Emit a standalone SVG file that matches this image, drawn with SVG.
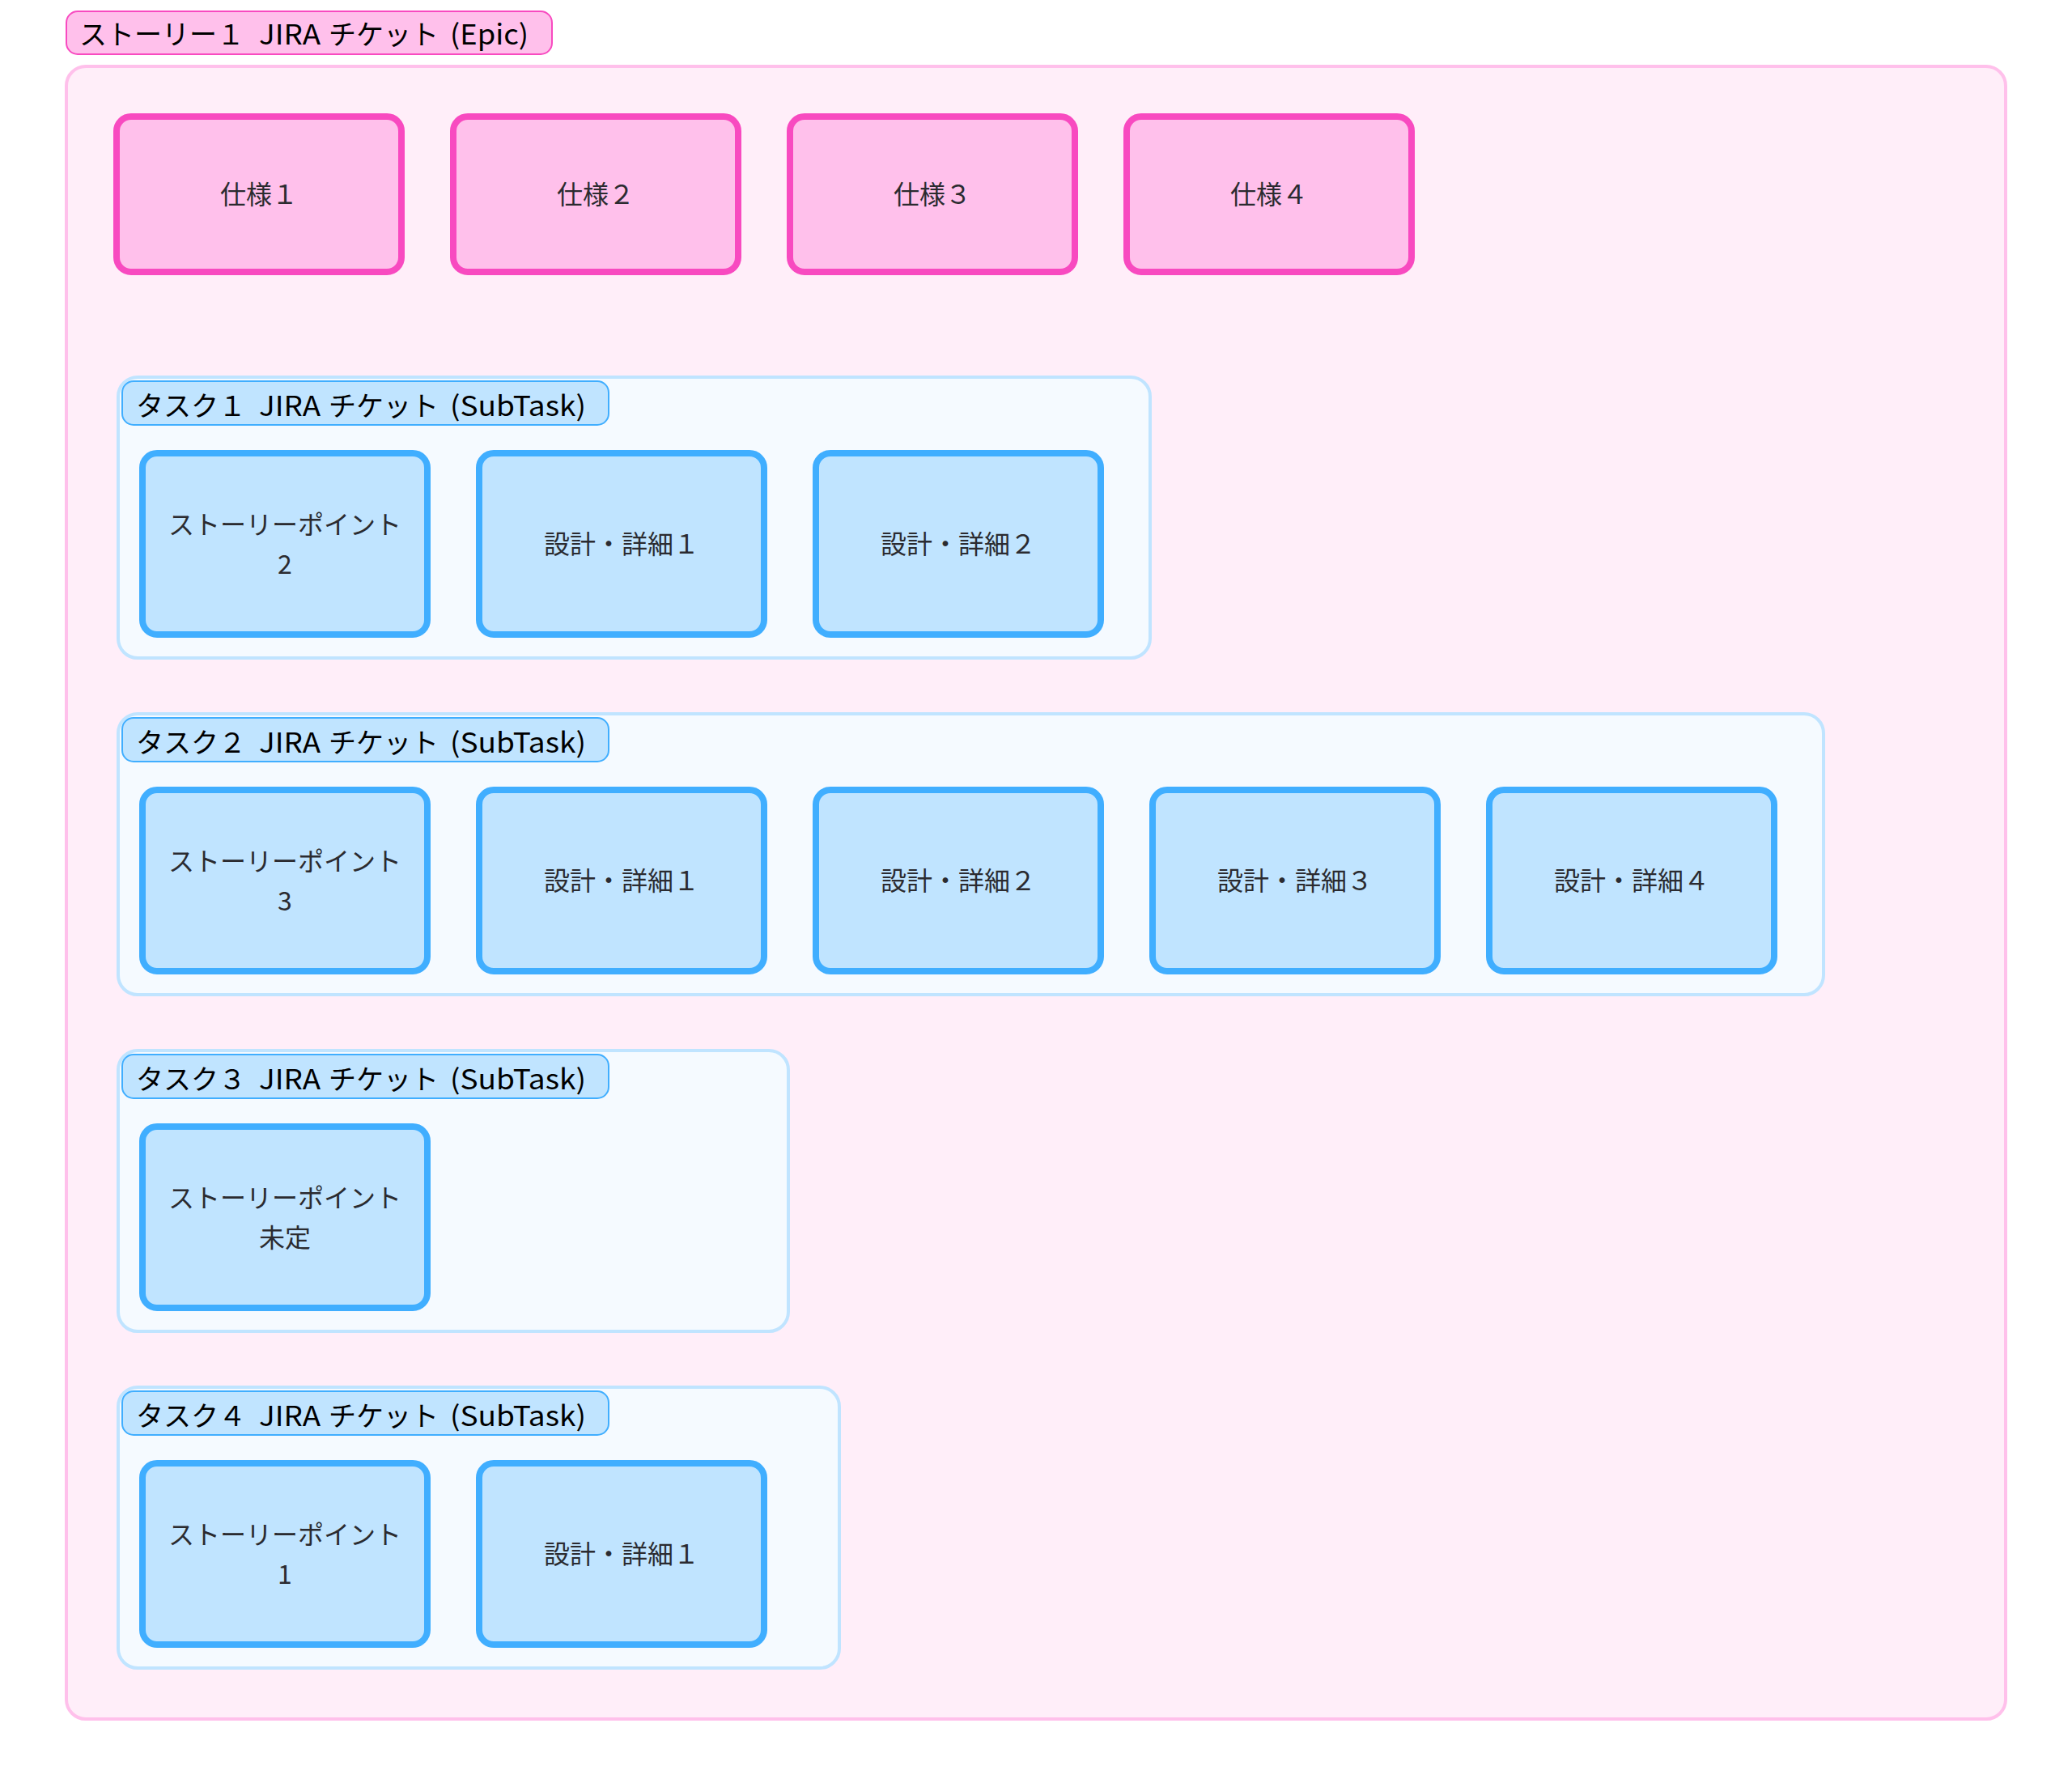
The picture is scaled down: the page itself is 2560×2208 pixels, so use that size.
<svg xmlns="http://www.w3.org/2000/svg" width="2560" height="2208" viewBox="0 0 2560 2208">
<style>
  .epic-box { fill: #ffeef9; stroke: #ffc0eb; stroke-width: 4; }
  .epic-label { fill: #ffc0eb; stroke: #f84ac0; stroke-width: 2; }
  .spec { fill: #ffc0eb; stroke: #f84ac0; stroke-width: 8; }
  .task-box { fill: #f5faff; stroke: #c0e4ff; stroke-width: 4; }
  .task-label { fill: #c0e4ff; stroke: #40aeff; stroke-width: 2; }
  .item { fill: #c0e4ff; stroke: #40aeff; stroke-width: 8; }
  .lbl { font-family: "Noto Sans CJK JP", "Noto Sans", sans-serif; font-size: 34px; fill: #000000; }
  .txt { font-family: "Noto Sans CJK JP", "Noto Sans", sans-serif; font-size: 32px; fill: #2b2b30; text-anchor: middle; }
</style>
<rect width="2560" height="2208" fill="#ffffff"/>

<g id="story1">
  <rect class="epic-box" x="82" y="82" width="2396" height="2042" rx="24"/>
  <rect class="epic-label" x="82" y="14" width="600" height="53" rx="14"/>
  <text class="lbl" y="55"><tspan x="98">ストーリー１</tspan><tspan x="320" textLength="76" lengthAdjust="spacingAndGlyphs">JIRA</tspan><tspan x="406">チケット</tspan><tspan x="556" textLength="97" lengthAdjust="spacingAndGlyphs">(Epic)</tspan></text>
</g>

<g id="spec1"><rect class="spec" x="144" y="144" width="352" height="192" rx="18"/><text class="txt" x="320" y="252">仕様１</text></g>
<g id="spec2"><rect class="spec" x="560" y="144" width="352" height="192" rx="18"/><text class="txt" x="736" y="252">仕様２</text></g>
<g id="spec3"><rect class="spec" x="976" y="144" width="352" height="192" rx="18"/><text class="txt" x="1152" y="252">仕様３</text></g>
<g id="spec4"><rect class="spec" x="1392" y="144" width="352" height="192" rx="18"/><text class="txt" x="1568" y="252">仕様４</text></g>

<g id="task1">
  <rect class="task-box" x="146" y="466" width="1275" height="347" rx="24"/>
  <rect class="task-label" x="151" y="471" width="601" height="54" rx="14"/>
  <text class="lbl" y="514"><tspan x="168">タスク１</tspan><tspan x="320" textLength="76" lengthAdjust="spacingAndGlyphs">JIRA</tspan><tspan x="406">チケット</tspan><tspan x="556" textLength="168" lengthAdjust="spacingAndGlyphs">(SubTask)</tspan></text>
</g>
<g id="t1-sp"><rect class="item" x="176" y="560" width="352" height="224" rx="18"/><text class="txt" x="352" y="660">ストーリーポイント</text><text class="txt" x="352" y="709">2</text></g>
<g id="t1-d1"><rect class="item" x="592" y="560" width="352" height="224" rx="18"/><text class="txt" x="768" y="684">設計・詳細１</text></g>
<g id="t1-d2"><rect class="item" x="1008" y="560" width="352" height="224" rx="18"/><text class="txt" x="1184" y="684">設計・詳細２</text></g>

<g id="task2">
  <rect class="task-box" x="146" y="882" width="2107" height="347" rx="24"/>
  <rect class="task-label" x="151" y="887" width="601" height="54" rx="14"/>
  <text class="lbl" y="930"><tspan x="168">タスク２</tspan><tspan x="320" textLength="76" lengthAdjust="spacingAndGlyphs">JIRA</tspan><tspan x="406">チケット</tspan><tspan x="556" textLength="168" lengthAdjust="spacingAndGlyphs">(SubTask)</tspan></text>
</g>
<g id="t2-sp"><rect class="item" x="176" y="976" width="352" height="224" rx="18"/><text class="txt" x="352" y="1076">ストーリーポイント</text><text class="txt" x="352" y="1125">3</text></g>
<g id="t2-d1"><rect class="item" x="592" y="976" width="352" height="224" rx="18"/><text class="txt" x="768" y="1100">設計・詳細１</text></g>
<g id="t2-d2"><rect class="item" x="1008" y="976" width="352" height="224" rx="18"/><text class="txt" x="1184" y="1100">設計・詳細２</text></g>
<g id="t2-d3"><rect class="item" x="1424" y="976" width="352" height="224" rx="18"/><text class="txt" x="1600" y="1100">設計・詳細３</text></g>
<g id="t2-d4"><rect class="item" x="1840" y="976" width="352" height="224" rx="18"/><text class="txt" x="2016" y="1100">設計・詳細４</text></g>

<g id="task3">
  <rect class="task-box" x="146" y="1298" width="828" height="347" rx="24"/>
  <rect class="task-label" x="151" y="1303" width="601" height="54" rx="14"/>
  <text class="lbl" y="1346"><tspan x="168">タスク３</tspan><tspan x="320" textLength="76" lengthAdjust="spacingAndGlyphs">JIRA</tspan><tspan x="406">チケット</tspan><tspan x="556" textLength="168" lengthAdjust="spacingAndGlyphs">(SubTask)</tspan></text>
</g>
<g id="t3-sp"><rect class="item" x="176" y="1392" width="352" height="224" rx="18"/><text class="txt" x="352" y="1492">ストーリーポイント</text><text class="txt" x="352" y="1541">未定</text></g>

<g id="task4">
  <rect class="task-box" x="146" y="1714" width="891" height="347" rx="24"/>
  <rect class="task-label" x="151" y="1719" width="601" height="54" rx="14"/>
  <text class="lbl" y="1762"><tspan x="168">タスク４</tspan><tspan x="320" textLength="76" lengthAdjust="spacingAndGlyphs">JIRA</tspan><tspan x="406">チケット</tspan><tspan x="556" textLength="168" lengthAdjust="spacingAndGlyphs">(SubTask)</tspan></text>
</g>
<g id="t4-sp"><rect class="item" x="176" y="1808" width="352" height="224" rx="18"/><text class="txt" x="352" y="1908">ストーリーポイント</text><text class="txt" x="352" y="1957">1</text></g>
<g id="t4-d1"><rect class="item" x="592" y="1808" width="352" height="224" rx="18"/><text class="txt" x="768" y="1932">設計・詳細１</text></g>

<g id="connectors"/>
</svg>
